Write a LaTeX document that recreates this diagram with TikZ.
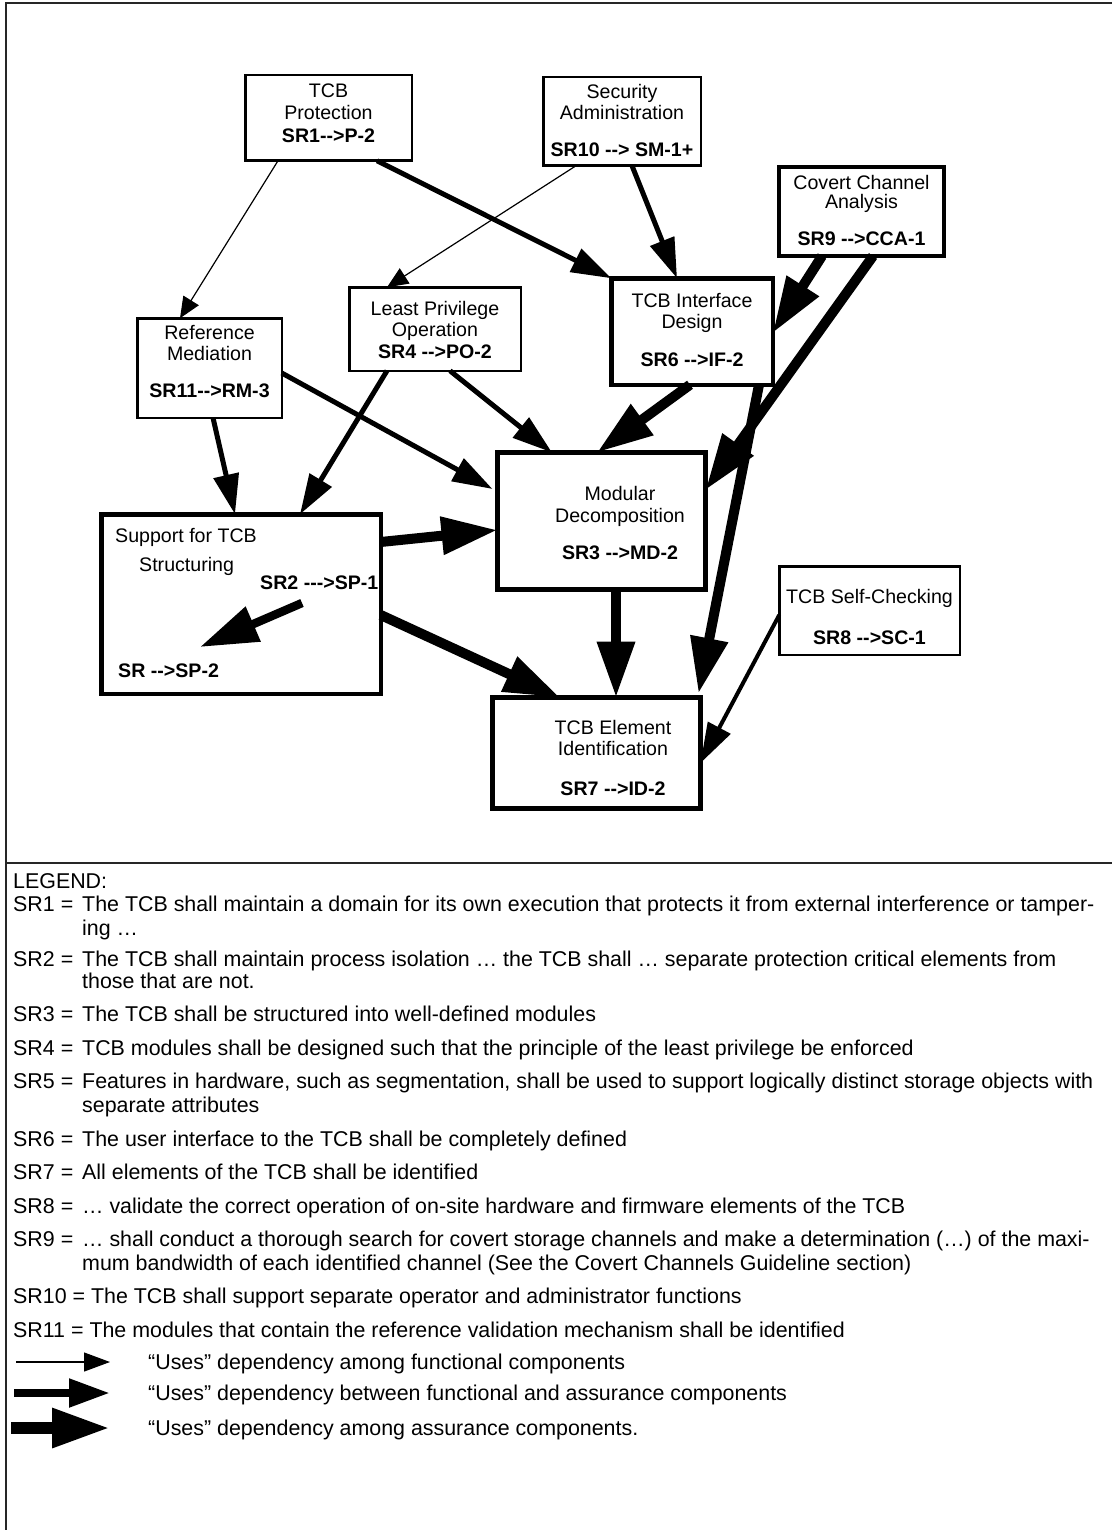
\documentclass[tikz,border=0pt]{standalone}
\usepackage{fontspec}
\setmainfont{Liberation Sans}
\usetikzlibrary{arrows.meta}
\begin{document}
\begin{tikzpicture}[x=1pt,y=-1pt,
  blk/.style={draw,line width=2.5pt,inner sep=0pt,outer sep=0pt},
  blkthick/.style={blk,line width=4.5pt},
  txt/.style={anchor=base,inner sep=0pt,font=\fontsize{19.6pt}{23pt}\selectfont},
  btxt/.style={txt,font=\fontsize{19.6pt}{23pt}\selectfont\bfseries},
  lgd/.style={anchor=base west,inner sep=0pt,font=\fontsize{21.4pt}{24pt}\selectfont},
  thinarr/.style={line width=1.2pt,-{Triangle[length=21pt,width=18pt]}},
  medarr/.style={line width=5pt,-{Triangle[length=40pt,width=25pt]}},
  fatarr/.style={line width=10pt,-{Triangle[length=56pt,width=36pt]}}]
\useasboundingbox (0,0) rectangle (1112,1530);

% frame and divider
\draw[line width=2pt,black!85] (6,1530) -- (6,3) -- (1112,3);
\draw[line width=2pt,black!85] (6,863) -- (1112,863);

% boxes
\node[blk,minimum width=166.5pt,minimum height=85.5pt] (prot) at (328.5,118) {};
\node[blk,minimum width=157.5pt,minimum height=88.5pt] (secadm) at (622,121.5) {};
\node[blk,line width=4pt,minimum width=165pt,minimum height=89pt] (cca) at (861.5,211.5) {};
\node[blkthick,minimum width=161.5pt,minimum height=106.5pt] (tcbif) at (692,331.5) {};
\node[blk,minimum width=171.5pt,minimum height=83.5pt] (lpo) at (435,329) {};
\node[blk,minimum width=144.5pt,minimum height=99.5pt] (refmed) at (209.5,368) {};
\node[blkthick,minimum width=279.5pt,minimum height=179.5pt] (sup) at (241,604) {};
\node[blkthick,line width=5pt,minimum width=208pt,minimum height=137pt] (mod) at (601.5,521) {};
\node[blk,minimum width=180.5pt,minimum height=88.5pt] (sc) at (869.5,610.5) {};
\node[blkthick,line width=5pt,minimum width=208pt,minimum height=111pt] (elem) at (596.5,753) {};

% box texts
\node[txt] (prot-a) at (328.5,98) {TCB};
\node[txt] (prot-b) at (328.5,120) {Protection};
\node[btxt] (prot-c) at (328.5,143) {SR1-{}->P-2};

\node[txt] (secadm-a) at (622,99) {Security};
\node[txt] (secadm-b) at (622,120) {Administration};
\node[btxt] (secadm-c) at (622,157) {SR10 -{}-> SM-1+};

\node[txt] (cca-a) at (861.5,190) {Covert Channel};
\node[txt] (cca-b) at (861.5,209) {Analysis};
\node[btxt] (cca-c) at (861.5,246) {SR9 -{}->CCA-1};

\node[txt] (tcbif-a) at (692,307) {TCB Interface};
\node[txt] (tcbif-b) at (692,328) {Design};
\node[btxt] (tcbif-c) at (692,366) {SR6 -{}->IF-2};

\node[txt] (lpo-a) at (435,315) {Least Privilege};
\node[txt] (lpo-b) at (435,336) {Operation};
\node[btxt] (lpo-c) at (435,358) {SR4 -{}->PO-2};

\node[txt] (refmed-a) at (209.5,339) {Reference};
\node[txt] (refmed-b) at (209.5,360) {Mediation};
\node[btxt] (refmed-c) at (209.5,397) {SR11-{}->RM-3};

\node[txt,anchor=base west] (sup-a) at (115,542) {Support for TCB};
\node[txt,anchor=base west] (sup-b) at (139,571) {Structuring};
\node[btxt,anchor=base west] (sup-c) at (260,589) {SR2 -{}-{}->SP-1};
\node[btxt,anchor=base west] (sup-d) at (118,677) {SR -{}->SP-2};

\node[txt] (mod-a) at (620,500) {Modular};
\node[txt] (mod-b) at (620,522) {Decomposition};
\node[btxt] (mod-c) at (620,559) {SR3 -{}->MD-2};

\node[txt] (sc-a) at (869.5,603) {TCB Self-Checking};
\node[btxt] (sc-b) at (869.5,644) {SR8 -{}->SC-1};

\node[txt] (elem-a) at (613,734) {TCB Element};
\node[txt] (elem-b) at (613,755) {Identification};
\node[btxt] (elem-c) at (613,795) {SR7 -{}->ID-2};

% dependencies among functional components
\draw[thinarr] ([xshift=-50.5pt]prot.south) -- ([xshift=-29.5pt]refmed.north);
\draw[thinarr] ([xshift=-46pt]secadm.south) -- ([xshift=-48pt]lpo.north);

% dependencies between functional and assurance components
\draw[medarr] ([xshift=48.5pt]prot.south) -- (tcbif.north west);
\draw[medarr] ([xshift=10pt]secadm.south) -- ([xshift=-15pt]tcbif.north);
\draw[medarr] ([xshift=3.5pt]refmed.south) -- ([xshift=-6pt]sup.north);
\draw[medarr] ([yshift=-5pt]refmed.east) -- ([yshift=32pt,xshift=-5pt]mod.west);
\draw[medarr] ([xshift=-48pt]lpo.south) -- ([xshift=59pt]sup.north);
\draw[medarr] ([xshift=15pt]lpo.south) -- ([xshift=-49.5pt]mod.north);
\draw[medarr,line width=4pt] ([yshift=-4.5pt]sc.west) -- ([yshift=-10pt]elem.east);

% dependencies among assurance components
\draw[fatarr] ([xshift=-39.5pt]cca.south) -- ([yshift=-1.5pt]tcbif.east);
\draw[fatarr] ([xshift=11.5pt]cca.south) -- ([yshift=31pt]mod.east);
\draw[fatarr] ([xshift=-2pt]tcbif.south) -- ([xshift=-4.5pt]mod.north);
\draw[fatarr] ([xshift=67pt]tcbif.south) -- ([xshift=-2pt,yshift=4pt]elem.north east);
\draw[fatarr] ([yshift=62pt]sup.east) -- ([yshift=-9pt]mod.west);
\draw[fatarr] ([yshift=-11pt]sup.east) -- ([xshift=-36.5pt]elem.north);
\draw[fatarr] ([xshift=14.5pt]mod.south) -- ([xshift=19.5pt]elem.north);

% SR2 refinement inside the structuring box
\coordinate (sp-tail) at (302,603);
\coordinate (sp-head) at (200,647);
\draw[line width=8.5pt,-{Triangle[length=58pt,width=36pt]}] (sp-tail) -- (sp-head);

% legend
\node[lgd] (lg-title) at (13,888) {LEGEND:};
\node[lgd] (lg1) at (13,911) {SR1 =};
\node[lgd] (lg1a) at (82,911) {The TCB shall maintain a domain for its own execution that protects it from external interference or tamper-};
\node[lgd] (lg1b) at (82,935) {ing …};
\node[lgd] (lg2) at (13,966) {SR2 =};
\node[lgd] (lg2a) at (82,966) {The TCB shall maintain process isolation … the TCB shall … separate protection critical elements from};
\node[lgd] (lg2b) at (82,988) {those that are not.};
\node[lgd] (lg3) at (13,1021) {SR3 =};
\node[lgd] (lg3a) at (82,1021) {The TCB shall be structured into well-defined modules};
\node[lgd] (lg4) at (13,1055) {SR4 =};
\node[lgd] (lg4a) at (82,1055) {TCB modules shall be designed such that the principle of the least privilege be enforced};
\node[lgd] (lg5) at (13,1088) {SR5 =};
\node[lgd] (lg5a) at (82,1088) {Features in hardware, such as segmentation, shall be used to support logically distinct storage objects with};
\node[lgd] (lg5b) at (82,1112) {separate attributes};
\node[lgd] (lg6) at (13,1146) {SR6 =};
\node[lgd] (lg6a) at (82,1146) {The user interface to the TCB shall be completely defined};
\node[lgd] (lg7) at (13,1179) {SR7 =};
\node[lgd] (lg7a) at (82,1179) {All elements of the TCB shall be identified};
\node[lgd] (lg8) at (13,1213) {SR8 =};
\node[lgd] (lg8a) at (82,1213) {… validate the correct operation of on-site hardware and firmware elements of the TCB};
\node[lgd] (lg9) at (13,1246) {SR9 =};
\node[lgd] (lg9a) at (82,1246) {… shall conduct a thorough search for covert storage channels and make a determination (…) of the maxi-};
\node[lgd] (lg9b) at (82,1270) {mum bandwidth of each identified channel (See the Covert Channels Guideline section)};
\node[lgd] (lg10) at (13,1303) {SR10 = The TCB shall support separate operator and administrator functions};
\node[lgd] (lg11) at (13,1337) {SR11 = The modules that contain the reference validation mechanism shall be identified};

\coordinate (k1s) at (16,1362); \coordinate (k1e) at (110,1362);
\coordinate (k2s) at (14,1393); \coordinate (k2e) at (110,1393);
\coordinate (k3s) at (11,1428); \coordinate (k3e) at (110,1428);
\draw[line width=1.2pt,-{Triangle[length=26pt,width=19pt]}] (k1s) -- (k1e);
\draw[line width=8pt,-{Triangle[length=41pt,width=27pt]}] (k2s) -- (k2e);
\draw[line width=12pt,-{Triangle[length=58pt,width=37pt]}] (k3s) -- (k3e);
\node[lgd] (lgk1) at (148,1369) {“Uses” dependency among functional components};
\node[lgd] (lgk2) at (148,1400) {“Uses” dependency between functional and assurance components};
\node[lgd] (lgk3) at (148,1435) {“Uses” dependency among assurance components.};
\end{tikzpicture}
\end{document}
